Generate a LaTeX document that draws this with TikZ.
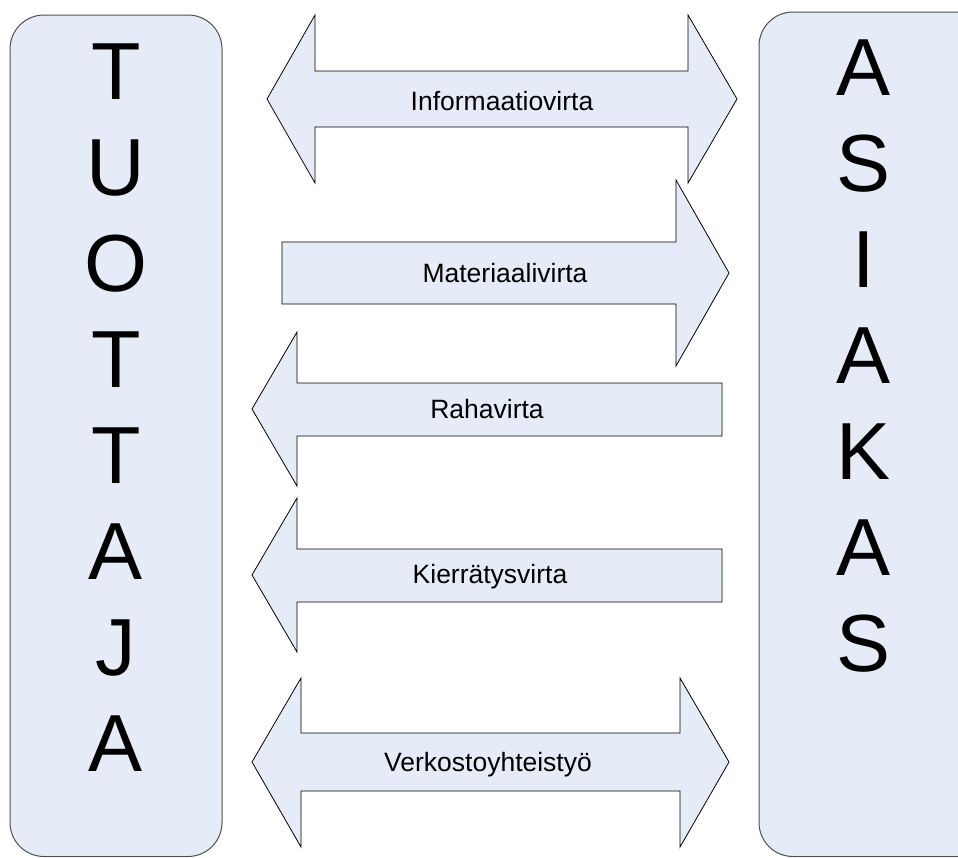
\documentclass[tikz,border=0pt]{standalone}
\usepackage{fontspec}
\setmainfont{Liberation Sans}
\definecolor{boxfill}{HTML}{E6ECF7}
\definecolor{boxline}{HTML}{505050}
\begin{document}
\begin{tikzpicture}[x=1pt,y=-1pt,
  sidebox/.style={draw=boxline,fill=boxfill,line width=1pt,rounded corners=34pt},
  flowarrow/.style={draw=black,fill=boxfill,line width=0.8pt,line join=miter},
  bigletter/.style={anchor=base,inner sep=0pt,font=\fontsize{81}{96}\selectfont},
  flowlabel/.style={anchor=base,inner sep=0pt,font=\fontsize{26.5}{30}\selectfont}]
\useasboundingbox (0,0) rectangle (958,857);
\clip (0,0) rectangle (958,857);
% side boxes
\draw[sidebox] (10,15) rectangle (222,856.5);
\draw[sidebox] (759,12) rectangle (1010,856.5);
% letters
\foreach \l [count=\i] in {T,U,O,T,T,A,J,A}
  \node[bigletter] (tuottaja\i) at (116,{99+96*(\i-1)}) {\l};
\foreach \l [count=\i] in {A,S,I,A,K,A,S}
  \node[bigletter] (asiakas\i) at (864,{95+96*(\i-1)}) {\l};
% arrows
\draw[flowarrow] (267,99) -- (315,15) -- (315,71) -- (688,71) -- (688,15) -- (737,99)
  -- (688,183) -- (688,127) -- (315,127) -- (315,183) -- cycle;
\draw[flowarrow] (282,242) -- (676,242) -- (676,180) -- (729,273) -- (676,366)
  -- (676,304) -- (282,304) -- cycle;
\draw[flowarrow] (252,409) -- (297,332) -- (297,383) -- (722,383) -- (722,436)
  -- (297,436) -- (297,486) -- cycle;
\draw[flowarrow] (252,575) -- (297,498) -- (297,549) -- (722,549) -- (722,602)
  -- (297,602) -- (297,652) -- cycle;
\draw[flowarrow] (252,762) -- (301,678) -- (301,733) -- (680,733) -- (680,678) -- (729,762)
  -- (680,847) -- (680,791) -- (301,791) -- (301,847) -- cycle;
% labels
\node[flowlabel] (info) at (502,110) {Informaatiovirta};
\node[flowlabel] (mat) at (505,282) {Materiaalivirta};
\node[flowlabel] (raha) at (487,418) {Rahavirta};
\node[flowlabel] (kierr) at (490,583) {Kierrätysvirta};
\node[flowlabel] (verk) at (488,771) {Verkostoyhteistyö};
\end{tikzpicture}
\end{document}
